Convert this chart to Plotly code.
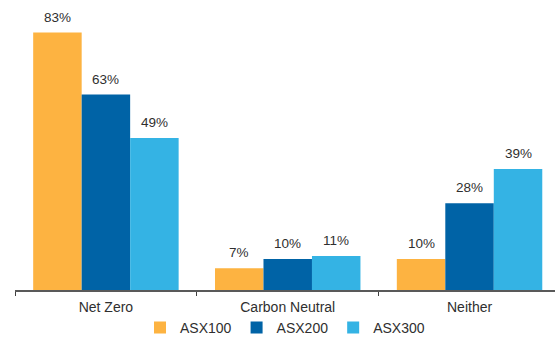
import plotly.graph_objects as go

categories = ["Net Zero", "Carbon Neutral", "Neither"]
series_names = ["ASX100", "ASX200", "ASX300"]
asx100 = [83, 7, 10]
asx200 = [63, 10, 28]
asx300 = [49, 11, 39]
series_values = [asx100, asx200, asx300]
colors = ["#FDB341", "#0063A6", "#34B3E4"]

FONT = "Liberation Sans, Arial, sans-serif"
TXT = "#2f2f2f"
BARGAP = 0.2

fig = go.Figure()
for name, vals, col in zip(series_names, series_values, colors):
    fig.add_trace(go.Bar(
        x=categories, y=vals, name=name,
        marker=dict(color=col, line=dict(width=0)),
    ))

n = len(series_names)
bw = (1 - BARGAP) / n
annotations = []
for j, vals in enumerate(series_values):
    for i, v in enumerate(vals):
        annotations.append(dict(
            x=i + (j - (n - 1) / 2) * bw, y=v, xref="x", yref="y",
            text=f"{v}%", showarrow=False, yanchor="bottom", yshift=6,
            font=dict(family=FONT, size=13.5, color=TXT),
        ))

fig.update_layout(
    width=555, height=338,
    margin=dict(l=15, r=0, t=5, b=48, autoexpand=False),
    paper_bgcolor="white", plot_bgcolor="white",
    barmode="group", bargap=BARGAP, bargroupgap=0,
    annotations=annotations,
    xaxis=dict(
        type="category", range=[-0.5, 2.47], tickson="boundaries",
        ticks="outside", ticklen=4, tickcolor="#404040", tickwidth=1.2,
        showline=True, linecolor="#595959", linewidth=1.5,
        showgrid=False, zeroline=False, ticklabelstandoff=3,
        tickfont=dict(family=FONT, size=14, color=TXT),
        automargin=False,
    ),
    yaxis=dict(visible=False, range=[0, 91.9], showgrid=False, zeroline=False),
    legend=dict(
        orientation="h", x=0.5, xanchor="center",
        yref="container", y=0.03, yanchor="middle",
        font=dict(family=FONT, size=14, color=TXT),
        bgcolor="rgba(0,0,0,0)",
    ),
    showlegend=True,
)

fig.write_html("out.html")
